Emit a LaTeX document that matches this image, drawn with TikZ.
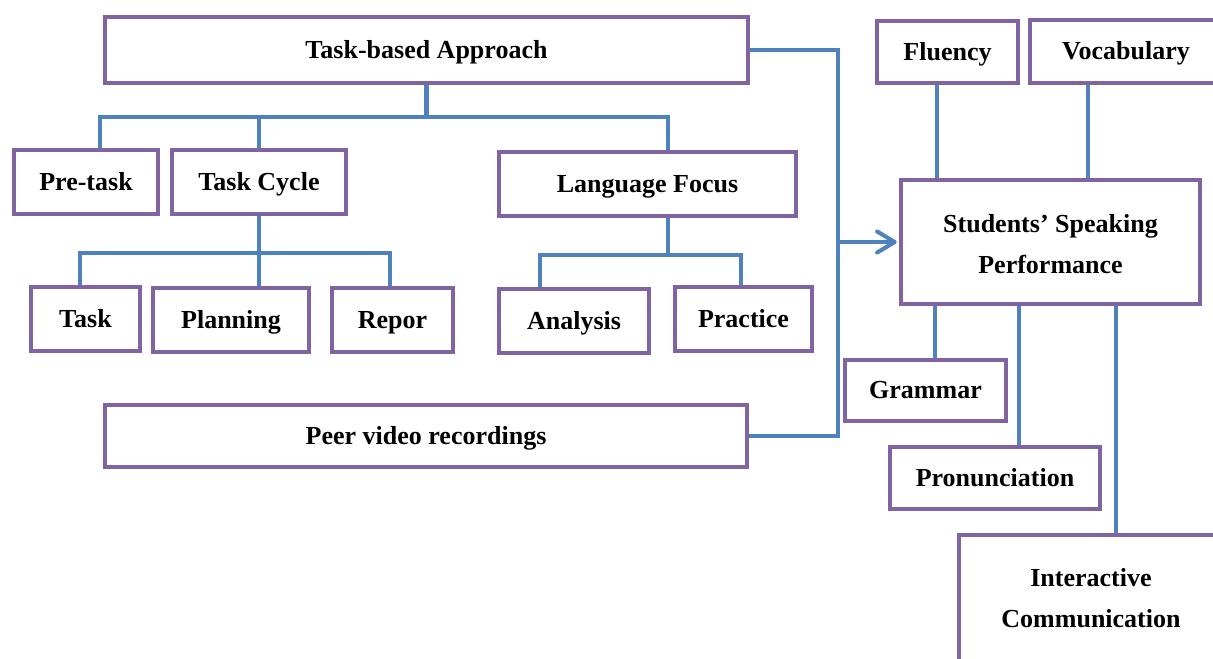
\documentclass[tikz,border=0pt]{standalone}
\usepackage{fontspec}
\setmainfont{Liberation Serif}
\usetikzlibrary{arrows.meta,positioning,backgrounds}
\definecolor{boxpurple}{HTML}{8064A2}
\definecolor{linkblue}{HTML}{4F81BD}
\tikzset{
  frame/.style={
    rectangle, draw=boxpurple, line width=2.5pt,
    fill=white, inner sep=0pt, align=center,
    text height=9.2pt, text depth=0pt,
  },
  line/.style={
    draw=linkblue, line width=2.3pt,
  },
  arrline/.style={
    line, -{Straight Barb[length=10pt,width=12pt,round]}, shorten >=1.2pt,
  }
}
\begin{document}
\begin{tikzpicture}[font=\fontsize{14.8}{23.2}\selectfont\bfseries]
\useasboundingbox (0,0) rectangle (24.26,-13.16);
% left part
\node [frame, minimum width=12.86cm, minimum height=1.32cm] (tba) at (8.53,-1.00) {Task-based Approach};
\node [frame, minimum width=2.88cm, minimum height=1.28cm] (pre) at (1.72,-3.64) {Pre-task};
\node [frame, minimum width=3.48cm, minimum height=1.28cm] (cyc) at (5.18,-3.64) {Task Cycle};
\node [frame, minimum width=5.94cm, minimum height=1.28cm] (lf) at (12.95,-3.68) {Language Focus};
\node [frame, minimum width=2.18cm, minimum height=1.28cm] (task) at (1.71,-6.38) {Task};
\node [frame, minimum width=3.12cm, minimum height=1.28cm] (plan) at (4.62,-6.40) {Planning};
\node [frame, minimum width=2.42cm, minimum height=1.28cm] (rep) at (7.85,-6.40) {Repor};
\node [frame, minimum width=3.00cm, minimum height=1.28cm] (ana) at (11.48,-6.42) {Analysis};
\node [frame, minimum width=2.74cm, minimum height=1.28cm] (prac) at (14.87,-6.38) {Practice};
\node [frame, minimum width=12.84cm, minimum height=1.24cm] (peer) at (8.52,-8.72) {Peer video recordings};
% right part
\node [frame, minimum width=2.82cm, minimum height=1.24cm] (flu) at (18.95,-1.04) {Fluency};
\node [frame, minimum width=3.84cm, minimum height=1.26cm] (voc) at (22.52,-1.03) {Vocabulary};
\node [frame, minimum width=5.98cm, minimum height=2.48cm, text height=35.8pt] (ssp) at (21.01,-4.84) {Students’ Speaking\\Performance};
\node [frame, minimum width=3.22cm, minimum height=1.22cm] (gra) at (18.51,-7.81) {Grammar};
\node [frame, minimum width=4.20cm, minimum height=1.24cm] (pro) at (19.90,-9.56) {Pronunciation};
\node [frame, minimum width=5.28cm, minimum height=2.52cm, text height=33.6pt] (ic) at (21.82,-11.96) {Interactive\\Communication};
\coordinate (bt) at ([xshift=1.76cm]tba.east);
\begin{scope}[on background layer]
\path [line] ([xshift=0.28cm]pre.north) |- ([yshift=-0.64cm]tba.south) -| ([xshift=0.41cm]lf.north);
\path [line] (tba.south) -- ++(0,-0.64cm);
\path [line] (cyc.north) -- ++(0,0.64cm);
\path [line] ([xshift=-0.11cm]task.north) |- ([yshift=-0.74cm]cyc.south) -| ([xshift=-0.05cm]rep.north);
\path [line] (cyc.south) -- (cyc.south |- plan.north);
\path [line] ([xshift=-0.68cm]ana.north) |- ([xshift=0.41cm,yshift=-0.74cm]lf.south) -| ([xshift=-0.05cm]prac.north);
\path [line] ([xshift=0.41cm]lf.south) -- ++(0,-0.74cm);
\path [line] (tba.east) -| (bt |- peer.east) -- (peer.east);
\path [arrline] (bt |- ssp.west) -- (ssp.west);
\path [line] ([xshift=-0.21cm]flu.south) -- ([xshift=-0.21cm]flu.south |- ssp.north);
\path [line] ([xshift=-0.76cm]voc.south) -- ([xshift=-0.76cm]voc.south |- ssp.north);
\path [line] ([xshift=0.19cm]gra.north) -- ([xshift=0.19cm]gra.north |- ssp.south);
\path [line] ([xshift=0.48cm]pro.north) -- ([xshift=0.48cm]pro.north |- ssp.south);
\path [line] ([xshift=0.50cm]ic.north) -- ([xshift=0.50cm]ic.north |- ssp.south);
\end{scope}
\end{tikzpicture}
\end{document}
